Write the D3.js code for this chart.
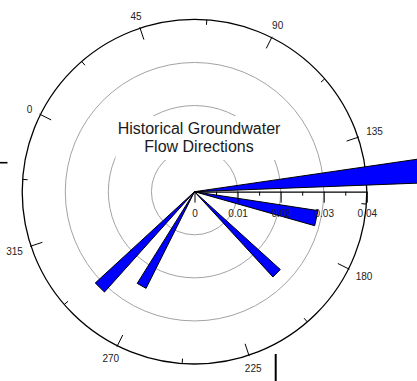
<!DOCTYPE html>
<html>
<head>
<meta charset="utf-8">
<script src="https://cdn.jsdelivr.net/npm/d3@7"></script>
<style>
  html, body { margin: 0; padding: 0; background: #fff; }
  svg { display: block; font-family: "Liberation Sans", Arial, sans-serif; }
</style>
</head>
<body>
<svg class="chart"></svg>
<script>
// rose of historical groundwater flow directions
const width = 417
const height = 381
const cx = 194.5, cy = 191.7

// wedges: direction range (deg) and magnitude
const dirFrom = [145.1, 162.1, 195.6, 270.0, 285.3]
const dirTo   = [151.2, 169.2, 200.8, 275.4, 290.8]
const magnitude = [0.06, 0.029, 0.0269, 0.0251, 0.0313]

// axes
const gridRings = [0.01, 0.02, 0.03]
const radialTicks = [0, 0.005, 0.01, 0.015, 0.02, 0.025, 0.03, 0.035, 0.04]
const radialLabels = [0, 0.01, 0.02, 0.03, 0.04]
const angleTicks = d3.range(0, 360, 22.5)
const angleLabels = [0, 45, 90, 135, 180, 225, 270, 315]
const titleLines = ['Historical Groundwater', 'Flow Directions']

const svg = d3.select('svg.chart')
  .attr('width', width)
  .attr('height', height)
  .attr('viewBox', `0 0 ${width} ${height}`)

// radius + angle scales (angle: d3 radial convention, 0 at 12 o'clock clockwise)
const r = d3.scaleLinear().domain([0, 0.04]).range([0, 172.3])
const angle = d3.scaleLinear().domain([0, 360])
  .range([-63.4 * Math.PI / 180, 296.6 * Math.PI / 180])

const g = svg.append('g').attr('transform', `translate(${cx}, ${cy})`)

// grey rings
g.selectAll('circle.ring')
  .data(gridRings)
  .enter()
  .append('circle')
    .attr('class', 'ring')
    .attr('r', d => r(d))
    .attr('fill', 'none')
    .attr('stroke', '#a3a3a3')
    .attr('stroke-width', 1)

// outer circle
g.append('circle')
  .attr('r', r(0.04))
  .attr('fill', 'none')
  .attr('stroke', '#000')
  .attr('stroke-width', 1.3)

// angular ticks
g.selectAll('line.atick')
  .data(angleTicks)
  .enter()
  .append('line')
    .attr('class', 'atick')
    .each(function (d) {
      const major = d % 45 === 0
      const p1 = d3.pointRadial(angle(d), r(0.04) + (major ? 1 : 0))
      const p2 = d3.pointRadial(angle(d), r(0.04) - (major ? 12 : 5))
      d3.select(this)
        .attr('x1', p1[0]).attr('y1', p1[1])
        .attr('x2', p2[0]).attr('y2', p2[1])
    })
    .attr('stroke', '#000')
    .attr('stroke-width', 1)

// angular labels
g.selectAll('text.alabel')
  .data(angleLabels)
  .enter()
  .append('text')
    .attr('class', 'alabel')
    .attr('text-anchor', 'middle')
    .attr('font-size', 10)
    .attr('fill', '#222')
    .text(d => d)
    .each(function (d) {
      const w = this.getComputedTextLength()
      const a = angle(d)
      const off = Math.abs(Math.sin(a)) * w / 2 + Math.abs(Math.cos(a)) * 2.5
      const p = d3.pointRadial(a, 181 + off)
      d3.select(this).attr('x', p[0]).attr('y', p[1] + 3.6)
    })

// title with white box behind it
const title = svg.append('text')
  .attr('text-anchor', 'middle')
  .attr('font-size', 16)
  .attr('fill', '#1a1a1a')

title.selectAll('tspan')
  .data(titleLines)
  .enter()
  .append('tspan')
    .attr('x', 199)
    .attr('y', (d, i) => 134.3 + i * 18)
    .text(d => d)

const bb = title.node().getBBox()
svg.insert('rect', () => title.node())
  .attr('x', bb.x - 2)
  .attr('y', 116)
  .attr('width', bb.width + 4)
  .attr('height', 44)
  .attr('fill', '#fff')

// wedges
const wedges = magnitude.map((m, i) => [
  { a: dirFrom[i], v: 0 },
  { a: dirFrom[i], v: m },
  { a: dirTo[i], v: m }
])

const wedgeLine = d3.lineRadial()
  .angle(d => angle(d.a))
  .radius(d => r(d.v))
  .curve(d3.curveLinearClosed)

const wg = svg.append('g').attr('transform', `translate(${cx}, ${cy})`)

wg.selectAll('path.wedge')
  .data(wedges)
  .enter()
  .append('path')
    .attr('class', 'wedge')
    .attr('d', wedgeLine)
    .attr('fill', '#0000ff')
    .attr('stroke', '#000')
    .attr('stroke-width', 1)
    .attr('stroke-linejoin', 'miter')

// radial axis along the 0.04 spoke
const rAxis = d3.axisBottom(r)
  .tickValues(radialTicks)
  .tickSizeInner(11)
  .tickSizeOuter(0)
  .tickPadding(7)
  .tickFormat(d => radialLabels.includes(d) ? (d === 0 ? '0' : d.toFixed(2)) : '')

const axisG = wg.append('g').call(rAxis)
axisG.select('.domain').attr('stroke-width', 1.2)
axisG.selectAll('.tick line')
  .attr('y2', d => radialLabels.includes(d) ? 11 : 4)
axisG.selectAll('.tick text')
  .attr('font-size', 10)
  .attr('font-family', '"Liberation Sans", Arial, sans-serif')
  .attr('fill', '#222')

// stray frame pieces at the edges
svg.append('line')
  .attr('x1', 0).attr('x2', 7.5).attr('y1', 162.7).attr('y2', 162.7)
  .attr('stroke', '#000').attr('stroke-width', 1.6)
svg.append('line')
  .attr('x1', 275.7).attr('x2', 275.7).attr('y1', 354).attr('y2', height)
  .attr('stroke', '#000').attr('stroke-width', 2)
</script>
</body>
</html>
